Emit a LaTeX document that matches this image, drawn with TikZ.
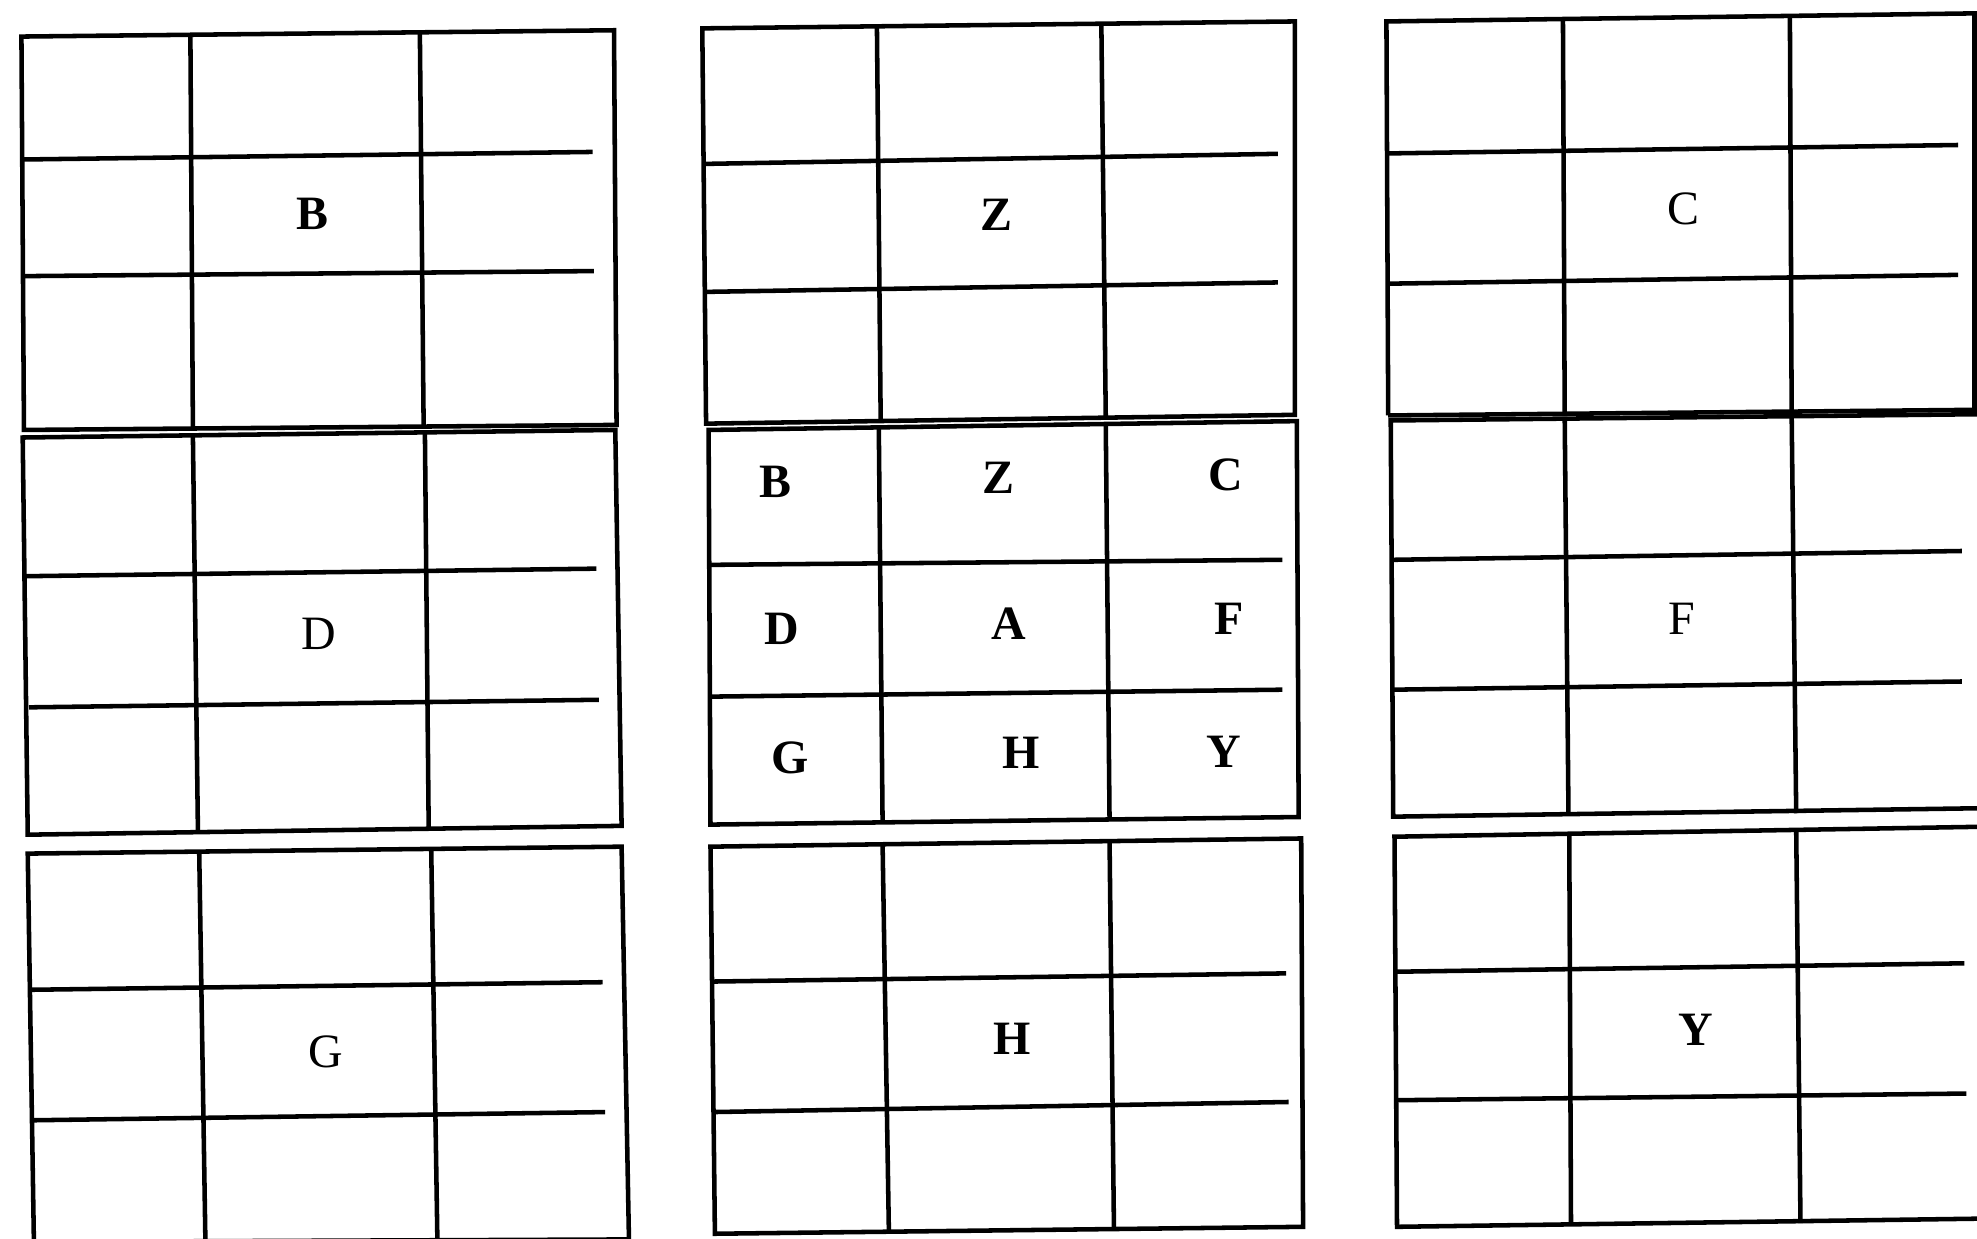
\documentclass[tikz,border=0pt]{standalone}
\usepackage{fontspec}
\setmainfont{Liberation Serif}
\begin{document}
\begin{tikzpicture}[x=1pt,y=-1pt,
  gl/.style={line width=3.6pt,line join=miter},
  lblb/.style={font=\fontsize{38}{40}\selectfont\bfseries,inner sep=0pt},
  lblr/.style={font=\fontsize{38}{40}\selectfont,inner sep=0pt}]
\useasboundingbox (0,0) rectangle (1568,982);
\clip (0,0) rectangle (1568,982);
\fill[white] (0,0) rectangle (1568,982);

% ---------- Grid B (top left)
\draw[gl] (17,29) -- (487,24) -- (489,337) -- (19,341) -- cycle;
\draw[gl] (151,28) -- (153,340);
\draw[gl] (333,26) -- (336,338);
\draw[gl] (18,126.5) -- (470,120.5);
\draw[gl] (19,219) -- (471,215);
\node[lblb] (oB) at (248,170) {B};

% ---------- Grid D (middle left)
\draw[gl] (18,347) -- (488,341) -- (493,655) -- (22,662) -- cycle;
\draw[gl] (153,346) -- (157,661);
\draw[gl] (337,343) -- (340,657);
\draw[gl] (20,457) -- (473,451);
\draw[gl] (23,561) -- (475,555);
\node[lblr] (oD) at (253,503) {D};

% ---------- Grid G (bottom left)
\draw[gl] (27,992) -- (22,677) -- (493,671.5) -- (499,992);
\draw[gl] (27,985) -- (499,983);
\draw[gl] (158,676) -- (163,990);
\draw[gl] (342,673) -- (347,990);
\draw[gl] (25,785) -- (478,779);
\draw[gl] (27,888.5) -- (480,882);
\node[lblr] (oG) at (258,834) {G};

% ---------- Grid Z (top middle)
\draw[gl] (557,22.5) -- (1027,17) -- (1027,329) -- (560,336) -- cycle;
\draw[gl] (695.5,21) -- (698.5,335);
\draw[gl] (873.5,19) -- (877,331);
\draw[gl] (558.5,130) -- (1013.5,122);
\draw[gl] (559.5,231.5) -- (1013.5,224);
\node[lblb] (oZ) at (790,170) {Z};

% ---------- Grid A (centre)
\draw[gl] (562,341) -- (1028.5,334) -- (1030,648) -- (563.5,654) -- cycle;
\draw[gl] (697,340) -- (700,653);
\draw[gl] (877,337) -- (880,650);
\draw[gl] (563,448) -- (1017,444);
\draw[gl] (564,552.5) -- (1017,547);
\node[lblb] (cB) at (615,382) {B};
\node[lblb] (cZ) at (792,379) {Z};
\node[lblb] (cC) at (972,377) {C};
\node[lblb] (cD) at (620,499) {D};
\node[lblb] (cA) at (800,495) {A};
\node[lblb] (cF) at (975,491) {F};
\node[lblb] (cG) at (627,601) {G};
\node[lblb] (cH) at (810,597) {H};
\node[lblb] (cY) at (971,596) {Y};

% ---------- Grid H (bottom middle)
\draw[gl] (563.5,671.5) -- (1032,665) -- (1033.5,973) -- (567,978.5) -- cycle;
\draw[gl] (700,670) -- (705,978);
\draw[gl] (880,667) -- (883.5,975);
\draw[gl] (564,778.5) -- (1020,772);
\draw[gl] (565,882) -- (1022,874);
\node[lblb] (oH) at (803,824) {H};

% ---------- Grid C (top right)
\draw[gl] (1101,329.5) -- (1099.6,17) -- (1566,10.6) -- (1566,327);
\draw[gl] (1101,329.5) -- (1570,325);
\draw[gl] (1239.6,16) -- (1241,330);
\draw[gl] (1419.6,14) -- (1421,329);
\draw[gl] (1100,121.7) -- (1553,115);
\draw[gl] (1101,225) -- (1553,218);
\node[lblr] (oC) at (1335,166) {C};

% ---------- Grid F (middle right)
\draw[gl] (1572,328.5) -- (1103,333.5) -- (1105,647.7) -- (1572,641);
\draw[gl] (1241,332) -- (1244,647);
\draw[gl] (1421,330) -- (1424.6,645);
\draw[gl] (1104,444) -- (1556,437);
\draw[gl] (1105,547) -- (1556,540.5);
\node[lblr] (oF) at (1334,491) {F};

% ---------- Grid Y (bottom right)
\draw[gl] (1572,655.7) -- (1106,663.6) -- (1108,973) -- (1572,966.5);
\draw[gl] (1244.6,662) -- (1246,972);
\draw[gl] (1424.6,659) -- (1428,970);
\draw[gl] (1107,770.7) -- (1558,764);
\draw[gl] (1108,872.6) -- (1559.6,867.3);
\node[lblb] (oY) at (1345,817) {Y};
\end{tikzpicture}
\end{document}
